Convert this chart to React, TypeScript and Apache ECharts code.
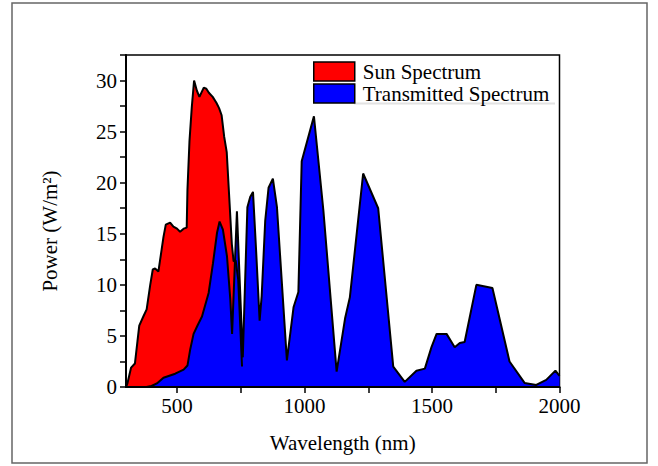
import React, { useEffect, useRef } from "react";
import * as echarts from "echarts";

const sunWavelength = [300, 305, 320, 335, 345, 352, 368, 381, 395, 405, 414, 427, 440, 447, 456, 473, 486, 500, 512, 526, 538, 541, 549, 558, 567, 578, 588, 605, 615, 625, 640, 655, 665, 675, 685, 695, 705, 715, 722, 730, 740, 748, 755];
const sunPower = [0, 0.3, 1.9, 2.3, 4.5, 6.0, 6.9, 7.6, 10, 11.5, 11.6, 11.3, 13.5, 14.7, 15.9, 16.1, 15.7, 15.5, 15.2, 15.5, 15.6, 19.3, 24.1, 27.4, 30.0, 29.0, 28.4, 29.3, 29.2, 28.8, 28.4, 27.8, 27.3, 26.6, 24.5, 23.0, 18.5, 14.0, 12.3, 12.4, 10.5, 6, 2];

const transWavelength = [300, 380, 400, 421, 447, 470, 493, 526, 541, 552, 565, 580, 598, 624, 641, 657, 667, 680, 696, 709, 716, 735, 758, 776, 787, 798, 811, 824, 832, 846, 859, 876, 892, 931, 957, 976, 989, 1037, 1074, 1126, 1159, 1178, 1230, 1289, 1348, 1393, 1439, 1472, 1498, 1518, 1557, 1589, 1609, 1628, 1674, 1737, 1804, 1863, 1909, 1948, 1984, 2000];
const transPower = [0, 0, 0.1, 0.35, 0.9, 1.1, 1.3, 1.7, 2.1, 3.7, 5.2, 6.0, 6.9, 9.2, 12.1, 15.1, 16.2, 15.4, 12.8, 8.6, 5.2, 17.2, 2.9, 17.6, 18.6, 19.1, 13, 6.5, 8.9, 16.3, 19.5, 20.4, 17.6, 2.6, 7.8, 9.3, 22.1, 26.5, 17.3, 1.5, 6.7, 8.8, 20.9, 17.5, 2.0, 0.5, 1.6, 1.8, 3.9, 5.2, 5.2, 3.9, 4.3, 4.4, 10.0, 9.7, 2.5, 0.4, 0.2, 0.7, 1.6, 1.1];

const xLabelValues = [500, 1000, 1500, 2000];
const xTickValues = [500, 750, 1000, 1250, 1500, 1750, 2000];
const yLabelValues = [0, 5, 10, 15, 20, 25, 30];
const yTickValues = [0, 2.5, 5, 7.5, 10, 12.5, 15, 17.5, 20, 22.5, 25, 27.5, 30, 32.5];

const seriesNames = ["Sun Spectrum", "Transmitted Spectrum"];
const xTitle = "Wavelength (nm)";
const yTitle = "Power (W/m²)";

export default function App() {
  const ref = useRef<HTMLDivElement>(null);
  useEffect(() => {
    const chart = echarts.init(ref.current!, null, { renderer: "svg" });
    const font = "'Liberation Serif', 'Times New Roman', serif";
    chart.setOption({
      animation: false,
      backgroundColor: "#ffffff",
      textStyle: { fontFamily: font, color: "#000" },
      grid: {
        left: 126,
        right: 98.5,
        top: 55,
        bottom: 79,
        show: true,
        borderColor: "#000",
        borderWidth: 1.5,
        backgroundColor: "transparent",
      },
      legend: {
        left: 313,
        top: 61,
        padding: 0,
        orient: "vertical",
        itemWidth: 41,
        itemHeight: 19,
        itemGap: 1,
        icon: "rect",
        selectedMode: false,
        itemStyle: { borderColor: "#000", borderWidth: 1.5 },
        textStyle: { fontSize: 21, fontFamily: font, color: "#000", padding: [0, 0, 0, 3], lineHeight: 20 },
        data: [
          { name: seriesNames[0], itemStyle: { color: "#ff0000" } },
          { name: seriesNames[1], itemStyle: { color: "#0000ff" } },
        ],
      },
      xAxis: {
        type: "value",
        min: 300,
        max: 2000,
        z: 3,
        name: xTitle,
        nameLocation: "middle",
        nameGap: 45,
        nameTextStyle: { fontSize: 21, fontFamily: font, color: "#000" },
        axisLine: { show: true, lineStyle: { color: "#000", width: 2 } },
        axisTick: { show: true, inside: false, length: 6, customValues: xTickValues, lineStyle: { color: "#000", width: 1.5 } },
        axisLabel: {
          customValues: xLabelValues,
          fontSize: 21,
          fontFamily: font,
          color: "#000",
          margin: 8,
          formatter: (v: number) => String(v),
        },
        splitLine: { show: false },
      },
      yAxis: {
        type: "value",
        min: 0,
        max: 32.5,
        z: 3,
        axisLine: { show: true, lineStyle: { color: "#000", width: 2 } },
        axisTick: { show: true, inside: false, length: 6, customValues: yTickValues, lineStyle: { color: "#000", width: 1.5 } },
        axisLabel: {
          customValues: yLabelValues,
          fontSize: 21,
          fontFamily: font,
          color: "#000",
          margin: 9,
          formatter: (v: number) => String(v),
        },
        splitLine: { show: false },
      },
      series: [
        {
          type: "line",
          name: seriesNames[0],
          data: sunWavelength.map((w, i) => [w, sunPower[i]]),
          symbol: "none",
          lineStyle: { color: "#000", width: 2 },
          areaStyle: { color: "#ff0000", opacity: 1 },
          itemStyle: { color: "#ff0000" },
          z: 2,
        },
        {
          type: "line",
          name: seriesNames[1],
          data: transWavelength.map((w, i) => [w, transPower[i]]),
          symbol: "none",
          lineStyle: { color: "#000", width: 2 },
          areaStyle: { color: "#0000ff", opacity: 1 },
          itemStyle: { color: "#0000ff" },
          z: 2,
        },
      ],
      graphic: [
        {
          type: "rect",
          shape: { x: 12, y: 3, width: 635, height: 460 },
          style: { fill: "none", stroke: "#666", lineWidth: 1.5 },
          silent: true,
        },
        {
          type: "line",
          shape: { x1: 354, y1: 103.5, x2: 555, y2: 103.5 },
          style: { stroke: "#e2e2e2", lineWidth: 2 },
          silent: true,
        },
        {
          type: "text",
          x: 50,
          y: 231,
          rotation: Math.PI / 2,
          style: {
            text: yTitle,
            fontSize: 21,
            fontFamily: font,
            fill: "#000",
            textAlign: "center",
            textVerticalAlign: "middle",
            align: "center",
            verticalAlign: "middle",
          },
          silent: true,
        },
      ],
    });
    return () => chart.dispose();
  }, []);
  return <div ref={ref} style={{ position: "fixed", left: 0, top: 0, width: 658, height: 466 }} />;
}
